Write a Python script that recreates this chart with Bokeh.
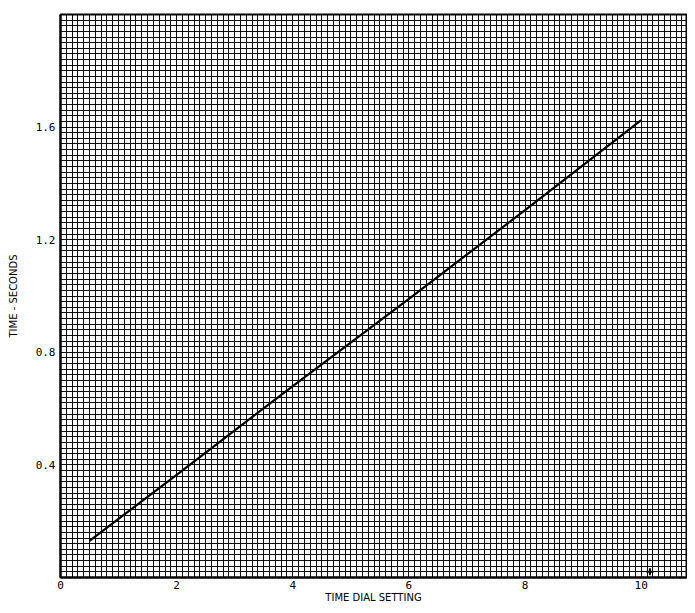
import numpy as np
from bokeh.plotting import figure
from bokeh.models import Range1d, FixedTicker
from bokeh.embed import file_html
from bokeh.resources import INLINE

# data
dial_setting = [0.5, 2, 4, 6, 8, 10]
time_seconds = [0.13, 0.365, 0.68, 0.99, 1.305, 1.625]
mark_x = [10.15]
mark_y = [0.02]

x_ticks = [0, 2, 4, 6, 8, 10]
y_ticks = [0.4, 0.8, 1.2, 1.6]
y_tick_labels = {0.4: "0.4", 0.8: "0.8", 1.2: "1.2", 1.6: "1.6"}

p = figure(width=687, height=605, output_backend="svg", toolbar_location=None,
           x_range=Range1d(0, 10.78), y_range=Range1d(0, 2.0),
           min_border_left=60, min_border_right=1, min_border_top=14, min_border_bottom=25)

p.outline_line_color = "black"
p.outline_line_width = 2

# graph-paper grid
p.xgrid.ticker = FixedTicker(ticks=list(np.round(np.arange(0, 10.8, 0.1), 2)))
p.ygrid.ticker = FixedTicker(ticks=list(np.round(np.arange(0, 2.0001, 0.02), 3)))
for g in (p.xgrid, p.ygrid):
    g.grid_line_color = "black"
    g.grid_line_width = 1
    g.grid_line_alpha = 0.95

p.line(dial_setting, time_seconds, line_color="black", line_width=2.2)
p.scatter(mark_x, mark_y, marker="cross", size=7, line_color="black", line_width=2)

p.xaxis.ticker = FixedTicker(ticks=x_ticks)
p.yaxis.ticker = FixedTicker(ticks=y_ticks)
p.yaxis.major_label_overrides = y_tick_labels

for ax in (p.xaxis, p.yaxis):
    ax.axis_line_color = "black"
    ax.axis_line_width = 2
    ax.major_tick_out = 0
    ax.major_tick_in = 0
    ax.minor_tick_out = 0
    ax.minor_tick_in = 0
    ax.major_label_text_font = "DejaVu Sans Mono"
    ax.major_label_text_font_size = "11px"
    ax.major_label_text_color = "black"
    ax.axis_label_text_font = "DejaVu Sans"
    ax.axis_label_text_font_size = "10px"
    ax.axis_label_text_font_style = "normal"
    ax.axis_label_text_color = "black"

p.xaxis.axis_label = "TIME DIAL SETTING"
p.yaxis.axis_label = "TIME - SECONDS"
p.xaxis.major_label_standoff = 3
p.yaxis.major_label_standoff = 5
p.xaxis.axis_label_standoff = 0
p.yaxis.axis_label_standoff = 14

open("out.html", "w").write(file_html(p, INLINE))
